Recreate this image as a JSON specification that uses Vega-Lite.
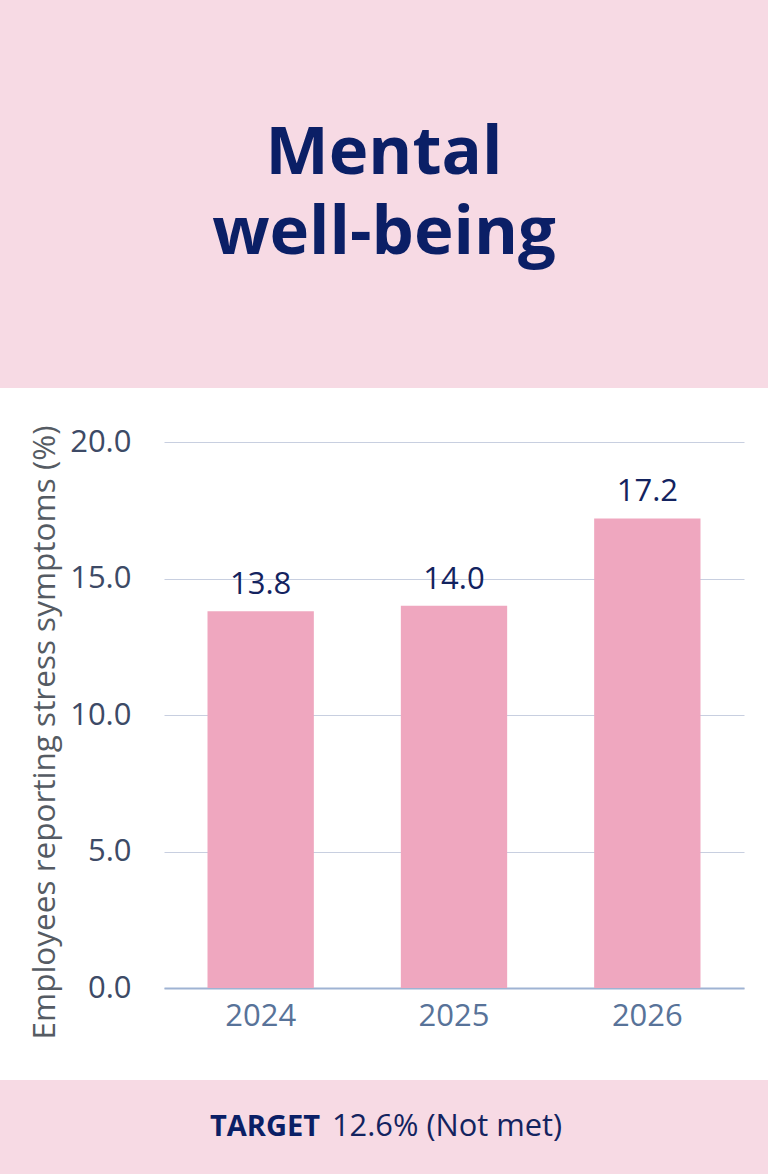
{
  "$schema": "https://vega.github.io/schema/vega-lite/v6.json",
  "padding": 0,
  "background": "#ffffff",
  "spacing": 0,
  "config": {
    "font": "Open Sans",
    "view": {"stroke": null}
  },
  "vconcat": [
    {
      "width": 768,
      "height": 388,
      "view": {"fill": "#f7dae4", "stroke": null},
      "data": {"values": [{"title": ["Mental", "well-being"]}]},
      "mark": {
        "type": "text",
        "fontWeight": "bold",
        "fontSize": 67,
        "lineHeight": 80,
        "baseline": "middle",
        "align": "center",
        "dy": -40,
        "color": "#0b1f66"
      },
      "encoding": {"text": {"field": "title", "type": "nominal"}}
    },
    {
      "width": 768,
      "height": 692,
      "view": {"fill": "#ffffff", "stroke": null},
      "data": {
        "values": [
          {"year": "2024", "pct": 13.8},
          {"year": "2025", "pct": 14.0},
          {"year": "2026", "pct": 17.2}
        ]
      },
      "encoding": {
        "x": {
          "field": "year",
          "type": "nominal",
          "scale": {"range": [164, 744], "paddingInner": 0.45, "paddingOuter": 0.225},
          "axis": {
            "title": null,
            "offset": -92,
            "labelAngle": 0,
            "labelFontSize": 31,
            "labelColor": "#587399",
            "labelPadding": 13,
            "ticks": false,
            "domainColor": "#9fb3d3",
            "domainWidth": 2,
            "grid": false
          }
        },
        "y": {
          "field": "pct",
          "type": "quantitative",
          "scale": {"domain": [0, 20], "range": [600, 54]},
          "axis": {
            "title": "Employees reporting stress symptoms (%)",
            "offset": -164,
            "titleFontSize": 31.5,
            "titleFontWeight": "normal",
            "titleColor": "#555b63",
            "titlePadding": 8,
            "titleY": 344,
            "values": [0, 5, 10, 15, 20],
            "format": ".1f",
            "labelFontSize": 31,
            "labelColor": "#3d4a66",
            "labelPadding": 33,
            "ticks": false,
            "domain": false,
            "gridColor": "#c8cfe0",
            "gridWidth": 1
          }
        }
      },
      "layer": [
        {"mark": {"type": "bar", "color": "#efa7bf"}},
        {
          "mark": {
            "type": "text",
            "baseline": "bottom",
            "dy": -10,
            "fontSize": 31,
            "color": "#13235f"
          },
          "encoding": {"text": {"field": "pct", "type": "quantitative", "format": ".1f"}}
        }
      ]
    },
    {
      "width": 768,
      "height": 94,
      "view": {"fill": "#f7dae4", "stroke": null},
      "data": {"values": [{"label": "TARGET", "value": "12.6% (Not met)"}]},
      "layer": [
        {
          "mark": {
            "type": "text",
            "fontWeight": "bold",
            "fontSize": 29,
            "align": "right",
            "baseline": "middle",
            "dx": -64,
            "color": "#0b1f66"
          },
          "encoding": {"text": {"field": "label", "type": "nominal"}}
        },
        {
          "mark": {
            "type": "text",
            "fontSize": 30.8,
            "align": "left",
            "baseline": "middle",
            "dx": -52,
            "color": "#13235f"
          },
          "encoding": {"text": {"field": "value", "type": "nominal"}}
        }
      ]
    }
  ]
}
